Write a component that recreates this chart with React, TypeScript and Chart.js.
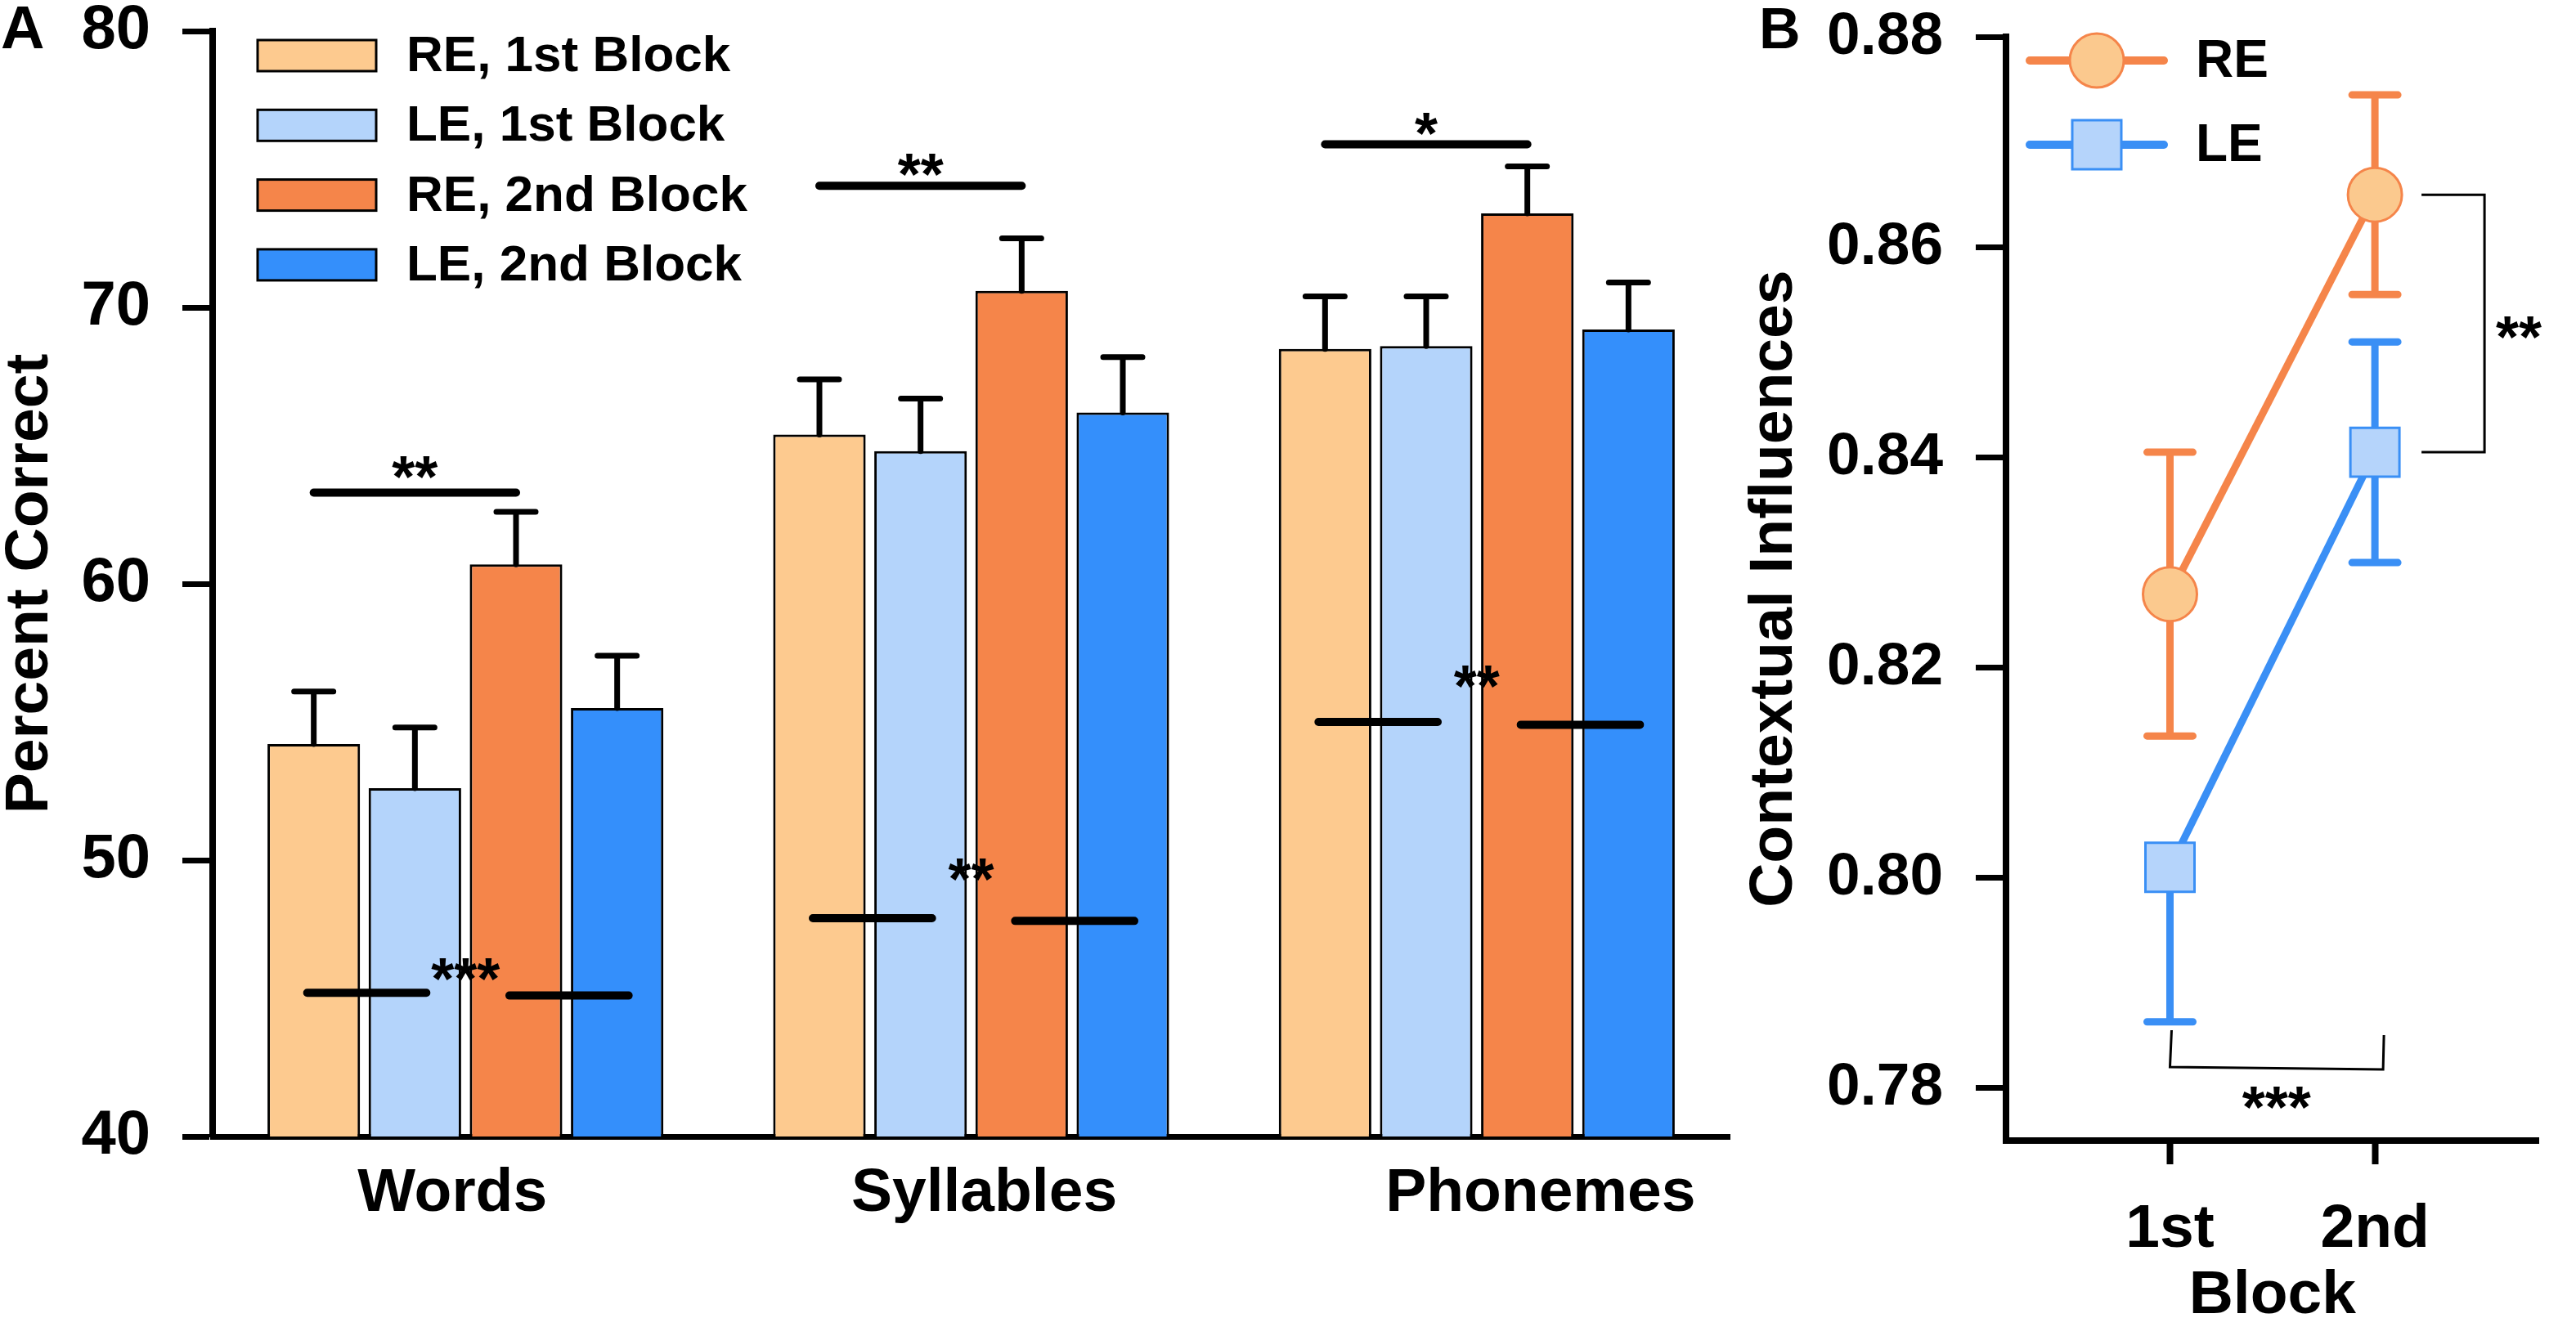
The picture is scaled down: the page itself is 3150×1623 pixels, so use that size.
import { useEffect, useRef } from "react";
import { Chart, registerables } from "chart.js";

Chart.register(...registerables);

const FONT = '"Liberation Sans", Arial, Helvetica, sans-serif';
Chart.defaults.font.family = FONT;
Chart.defaults.color = "#000";

// ---- Panel A data ----
const CATEGORIES = ["Words", "Syllables", "Phonemes"];
const SERIES_LABELS = ["RE, 1st Block", "LE, 1st Block", "RE, 2nd Block", "LE, 2nd Block"];
const SERIES_COLORS = ["#FDCA8F", "#B4D4FB", "#F5854A", "#348FFB"];
const RE_1ST = [54.2, 65.4, 68.5];
const LE_1ST = [52.6, 64.8, 68.6];
const RE_2ND = [60.7, 70.6, 73.4];
const LE_2ND = [55.5, 66.2, 69.2];
const RE_1ST_ERR = [1.9, 2.0, 1.9];
const LE_1ST_ERR = [2.2, 1.9, 1.8];
const RE_2ND_ERR = [1.9, 1.9, 1.7];
const LE_2ND_ERR = [1.9, 2.0, 1.7];
const A_TICKS = [40, 50, 60, 70, 80];

// RE 1st vs RE 2nd, per category
const EAR_SIG_LEVEL = [63.3, 74.4, 75.9];
const EAR_SIG_MARK = ["**", "**", "*"];
const EAR_SIG_MARK_AT = [64.35, 75.3, 76.8];
// 1st block (RE+LE) vs 2nd block (RE+LE), per category
const BLOCK_SIG_LEVEL_1ST = [45.2, 47.9, 55.0];
const BLOCK_SIG_LEVEL_2ND = [45.1, 47.8, 54.9];
const BLOCK_SIG_MARK = ["***", "**", "**"];
const BLOCK_SIG_MARK_AT = [46.2, 49.8, 56.8];

// ---- Panel B data ----
const BLOCKS = ["1st", "2nd"];
const B_TICKS = [0.78, 0.8, 0.82, 0.84, 0.86, 0.88];
const RE_CTX = [0.827, 0.865];
const LE_CTX = [0.801, 0.8405];
const RE_CTX_ERR_UP = [0.0135, 0.0095];
const RE_CTX_ERR_DOWN = [0.0135, 0.0095];
const LE_CTX_ERR_UP = [0, 0.0105];
const LE_CTX_ERR_DOWN = [0.0147, 0.0105];
const EAR_2ND_MARK = "**";
const BLOCK_BRACKET_LEVEL = 0.782;
const BLOCK_BRACKET_TIP = 0.7855;
const BLOCK_BRACKET_MARK = "***";
const BLOCK_BRACKET_MARK_AT = 0.7795;

const ORANGE = "#F5854A";
const PEACH = "#FBC98E";
const BLUE = "#3A8FF5";
const LIGHT_BLUE = "#B5D4FB";

const bold = (size: number) => ({ size, weight: "bold" as const, lineHeight: 1 });

function mark(ctx: CanvasRenderingContext2D, text: string, x: number, yCenter: number, size = 72) {
  ctx.font = `bold ${size}px ${FONT}`;
  ctx.textAlign = "center";
  ctx.textBaseline = "alphabetic";
  ctx.fillText(text, x, yCenter + size * 0.575);
}

// keep chart.js from reserving room for tick padding at the axis ends
const noEndPadding = (s: any) => {
  s.paddingTop = 0;
  s.paddingBottom = 0;
  s.paddingLeft = 0;
  s.paddingRight = 0;
};

const barExtras = {
  id: "barExtras",
  afterDatasetsDraw(chart: any) {
    const { ctx } = chart;
    const y = chart.scales.y;
    const errs = [RE_1ST_ERR, LE_1ST_ERR, RE_2ND_ERR, LE_2ND_ERR];
    ctx.save();
    ctx.strokeStyle = "#000";
    ctx.fillStyle = "#000";
    ctx.lineCap = "round";

    // error bars (upper only)
    ctx.lineWidth = 7;
    chart.data.datasets.forEach((ds: any, di: number) => {
      chart.getDatasetMeta(di).data.forEach((bar: any, i: number) => {
        const top = y.getPixelForValue(ds.data[i] + errs[di][i]);
        ctx.beginPath();
        ctx.moveTo(bar.x, bar.y);
        ctx.lineTo(bar.x, top);
        ctx.moveTo(bar.x - 24, top);
        ctx.lineTo(bar.x + 24, top);
        ctx.stroke();
      });
    });

    // significance lines
    const bars = [0, 1, 2, 3].map((di) => chart.getDatasetMeta(di).data);
    ctx.lineWidth = 10;
    CATEGORIES.forEach((_, i) => {
      const re1 = bars[0][i].x, le1 = bars[1][i].x, re2 = bars[2][i].x, le2 = bars[3][i].x;
      const yTop = y.getPixelForValue(EAR_SIG_LEVEL[i]);
      ctx.beginPath();
      ctx.moveTo(re1, yTop);
      ctx.lineTo(re2, yTop);
      ctx.stroke();
      mark(ctx, EAR_SIG_MARK[i], (re1 + re2) / 2, y.getPixelForValue(EAR_SIG_MARK_AT[i]));

      const y1 = y.getPixelForValue(BLOCK_SIG_LEVEL_1ST[i]);
      const y2 = y.getPixelForValue(BLOCK_SIG_LEVEL_2ND[i]);
      ctx.beginPath();
      ctx.moveTo(re1 - 8, y1);
      ctx.lineTo(le1 + 14, y1);
      ctx.moveTo(re2 - 8, y2);
      ctx.lineTo(le2 + 14, y2);
      ctx.stroke();
      mark(ctx, BLOCK_SIG_MARK[i], (le1 + re2) / 2, y.getPixelForValue(BLOCK_SIG_MARK_AT[i]));
    });
    ctx.restore();
  },
  afterDraw(chart: any) {
    const { ctx } = chart;
    const x = chart.scales.x;
    ctx.save();
    ctx.fillStyle = "#000";

    // category labels, nudged the way the original figure places them
    const nudge = [-16, 16, 78];
    ctx.font = `bold 75px ${FONT}`;
    ctx.textAlign = "center";
    ctx.textBaseline = "middle";
    CATEGORIES.forEach((c, i) => {
      ctx.fillText(c, x.getPixelForTick(i) + nudge[i], x.top + 70);
    });

    // legend
    ctx.font = `bold 62px ${FONT}`;
    ctx.textAlign = "left";
    ctx.textBaseline = "middle";
    chart.data.datasets.forEach((ds: any, i: number) => {
      const cy = 68 + i * 85.3;
      ctx.fillStyle = ds.backgroundColor;
      ctx.fillRect(315, cy - 19, 145, 38);
      ctx.lineWidth = 3;
      ctx.strokeStyle = "#000";
      ctx.strokeRect(315, cy - 19, 145, 38);
      ctx.fillStyle = "#000";
      ctx.fillText(ds.label, 497, cy + 2);
    });

    // panel letter
    ctx.font = `bold 74px ${FONT}`;
    ctx.textBaseline = "alphabetic";
    ctx.fillText("A", 1, 59);
    ctx.restore();
  },
};

const lineExtras = {
  id: "lineExtras",
  beforeDatasetsDraw(chart: any) {
    const { ctx } = chart;
    const y = chart.scales.y;
    const ups = [RE_CTX_ERR_UP, LE_CTX_ERR_UP];
    const downs = [RE_CTX_ERR_DOWN, LE_CTX_ERR_DOWN];
    ctx.save();
    ctx.lineWidth = 9;
    ctx.lineCap = "round";
    [1, 0].forEach((di) => {
      const ds = chart.data.datasets[di];
      ctx.strokeStyle = ds.borderColor;
      chart.getDatasetMeta(di).data.forEach((pt: any, i: number) => {
        const v = ds.data[i].y;
        const ends = [] as number[];
        if (ups[di][i] > 0) ends.push(y.getPixelForValue(v + ups[di][i]));
        if (downs[di][i] > 0) ends.push(y.getPixelForValue(v - downs[di][i]));
        ends.forEach((e) => {
          ctx.beginPath();
          ctx.moveTo(pt.x, pt.y);
          ctx.lineTo(pt.x, e);
          ctx.moveTo(pt.x - 28, e);
          ctx.lineTo(pt.x + 28, e);
          ctx.stroke();
        });
      });
    });
    ctx.restore();
  },
  afterDraw(chart: any) {
    const { ctx } = chart;
    const y = chart.scales.y;
    const re = chart.getDatasetMeta(0).data;
    const le = chart.getDatasetMeta(1).data;
    ctx.save();
    ctx.strokeStyle = "#000";
    ctx.fillStyle = "#000";
    ctx.lineWidth = 3;

    // RE vs LE at 2nd block
    const x2 = re[1].x;
    const yRe = re[1].y, yLe = le[1].y;
    ctx.beginPath();
    ctx.moveTo(x2 + 57, yRe);
    ctx.lineTo(x2 + 134, yRe);
    ctx.lineTo(x2 + 134, yLe);
    ctx.lineTo(x2 + 57, yLe);
    ctx.stroke();
    mark(ctx, EAR_2ND_MARK, x2 + 176, (yRe + yLe) / 2);

    // 1st vs 2nd block
    const xa = le[0].x, xb = le[1].x + 10;
    const yb = y.getPixelForValue(BLOCK_BRACKET_LEVEL);
    const yt = y.getPixelForValue(BLOCK_BRACKET_TIP);
    ctx.beginPath();
    ctx.moveTo(xa + 2, yt);
    ctx.lineTo(xa, yb);
    ctx.lineTo(xb, yb + 3);
    ctx.lineTo(xb + 1, yt + 6);
    ctx.stroke();
    mark(ctx, BLOCK_BRACKET_MARK, (xa + xb) / 2, y.getPixelForValue(BLOCK_BRACKET_MARK_AT));

    // legend
    chart.data.datasets.forEach((ds: any, i: number) => {
      const cy = 74 + i * 103;
      ctx.strokeStyle = ds.borderColor;
      ctx.lineWidth = 10;
      ctx.lineCap = "round";
      ctx.beginPath();
      ctx.moveTo(349, cy);
      ctx.lineTo(513, cy);
      ctx.stroke();
      ctx.fillStyle = ds.pointBackgroundColor;
      ctx.lineWidth = 3;
      ctx.beginPath();
      if (ds.pointStyle === "circle") {
        ctx.arc(431, cy, 33, 0, Math.PI * 2);
      } else {
        ctx.rect(431 - 30, cy - 30, 60, 60);
      }
      ctx.fill();
      ctx.stroke();
      ctx.fillStyle = "#000";
      ctx.font = `bold 64px ${FONT}`;
      ctx.textAlign = "left";
      ctx.textBaseline = "middle";
      ctx.fillText(ds.label, 552, cy + 2);
    });

    ctx.font = `bold 70px ${FONT}`;
    ctx.textBaseline = "alphabetic";
    ctx.fillText("B", 18, 59);
    ctx.restore();
  },
};

function PanelA() {
  const ref = useRef<HTMLCanvasElement>(null);
  useEffect(() => {
    if (!ref.current) return;
    const values = [RE_1ST, LE_1ST, RE_2ND, LE_2ND];
    const chart = new Chart(ref.current, {
      type: "bar",
      data: {
        labels: CATEGORIES,
        datasets: SERIES_LABELS.map((label, i) => ({
          label,
          data: values[i],
          backgroundColor: SERIES_COLORS[i],
          borderColor: "#000",
          borderWidth: 3,
          categoryPercentage: 0.8,
          barPercentage: 0.915,
        })),
      },
      options: {
        responsive: false,
        animation: false,
        layout: { padding: { top: 38, right: 25, left: 0, bottom: 0 } },
        plugins: { legend: { display: false }, tooltip: { enabled: false } },
        scales: {
          x: {
            afterFit: (s: any) => { s.height = 233; noEndPadding(s); },
            border: { display: true, color: "#000", width: 7 },
            grid: { display: false, drawTicks: false },
            ticks: { display: false },
          },
          y: {
            min: 40,
            max: 80,
            afterBuildTicks: (s: any) => { s.ticks = A_TICKS.map((value) => ({ value })); },
            afterFit: (s: any) => { s.width = 260; noEndPadding(s); },
            border: { display: true, color: "#000", width: 8 },
            grid: { drawOnChartArea: false, drawTicks: true, tickLength: 37, tickWidth: 7, tickColor: "#000" },
            ticks: { color: "#000", padding: 39, font: bold(76) },
            title: { display: true, text: "Percent Correct", color: "#000", padding: 0, font: bold(75) },
          },
        },
      },
      plugins: [barExtras],
    });
    return () => chart.destroy();
  }, []);
  return (
    <canvas
      ref={ref}
      width={2140}
      height={1623}
      style={{ position: "absolute", left: 0, top: 0, width: 2140, height: 1623 }}
    />
  );
}

function PanelB() {
  const ref = useRef<HTMLCanvasElement>(null);
  useEffect(() => {
    if (!ref.current) return;
    const chart = new Chart(ref.current, {
      type: "line",
      data: {
        datasets: [
          {
            label: "RE",
            data: BLOCKS.map((_, i) => ({ x: i + 1, y: RE_CTX[i] })),
            borderColor: ORANGE,
            borderWidth: 9,
            pointStyle: "circle",
            pointRadius: 33,
            pointBackgroundColor: PEACH,
            pointBorderColor: ORANGE,
            pointBorderWidth: 3,
          },
          {
            label: "LE",
            data: BLOCKS.map((_, i) => ({ x: i + 1, y: LE_CTX[i] })),
            borderColor: BLUE,
            borderWidth: 9,
            pointStyle: "rect",
            pointRadius: 42.4,
            pointBackgroundColor: LIGHT_BLUE,
            pointBorderColor: BLUE,
            pointBorderWidth: 3,
          },
        ],
      },
      options: {
        responsive: false,
        animation: false,
        layout: { padding: { top: 45, right: 9, left: 0, bottom: 0 } },
        plugins: { legend: { display: false }, tooltip: { enabled: false } },
        scales: {
          x: {
            type: "linear",
            min: 0.2,
            max: 2.8,
            afterBuildTicks: (s: any) => { s.ticks = BLOCKS.map((_, i) => ({ value: i + 1 })); },
            afterFit: (s: any) => { s.height = 228; noEndPadding(s); },
            border: { display: true, color: "#000", width: 8 },
            grid: { drawOnChartArea: false, drawTicks: true, tickLength: 29, tickWidth: 8, tickColor: "#000" },
            ticks: {
              color: "#000",
              padding: 43,
              font: bold(75),
              callback: (v: any) => BLOCKS[Math.round(Number(v)) - 1] ?? "",
            },
            title: { display: true, text: "Block", color: "#000", padding: 0, font: bold(75) },
          },
          y: {
            min: 0.775,
            max: 0.88,
            afterBuildTicks: (s: any) => { s.ticks = B_TICKS.map((value) => ({ value })); },
            afterFit: (s: any) => { s.width = 320; noEndPadding(s); },
            border: { display: true, color: "#000", width: 8 },
            grid: { drawOnChartArea: false, drawTicks: true, tickLength: 37, tickWidth: 7, tickColor: "#000" },
            ticks: {
              color: "#000",
              padding: 40,
              font: bold(73),
              callback: (v: any) => Number(v).toFixed(2),
            },
            title: { display: true, text: "Contextual Influences", color: "#000", padding: 0, font: bold(75) },
          },
        },
      },
      plugins: [lineExtras],
    });
    return () => chart.destroy();
  }, []);
  return (
    <canvas
      ref={ref}
      width={1017}
      height={1623}
      style={{ position: "absolute", left: 2133, top: 0, width: 1017, height: 1623 }}
    />
  );
}

export default function App() {
  return (
    <div style={{ position: "absolute", left: 0, top: 0, width: 3150, height: 1623, background: "#fff", overflow: "hidden" }}>
      <PanelA />
      <PanelB />
    </div>
  );
}
